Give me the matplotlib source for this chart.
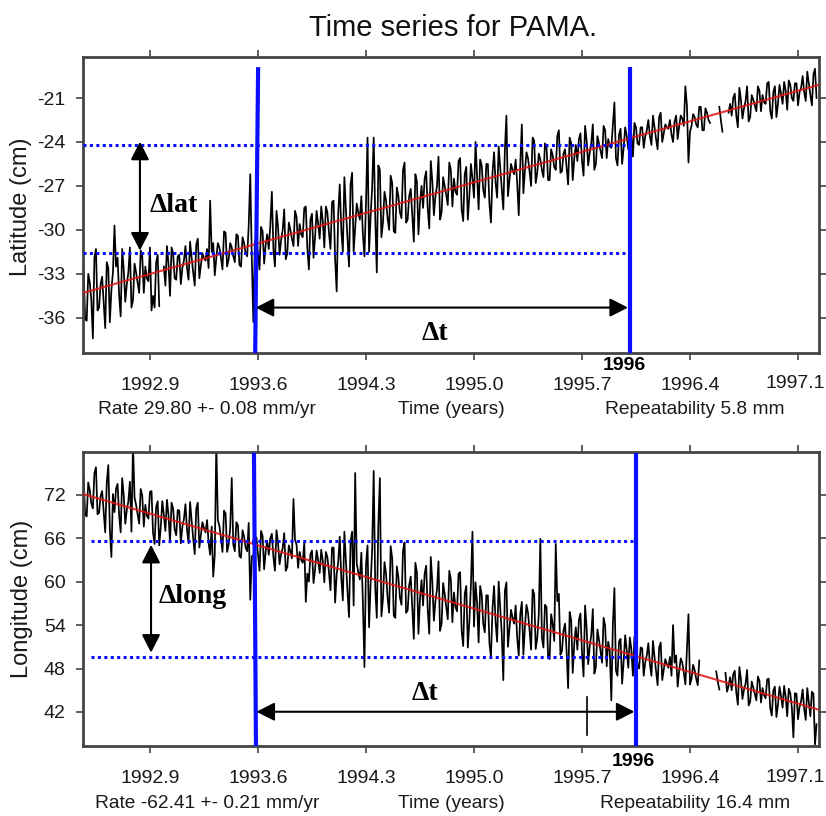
import numpy as np
import matplotlib
matplotlib.use("Agg")
import matplotlib.pyplot as plt

SANS = 'Liberation Sans'
SERIF = 'Liberation Serif'

# ---------------- data ----------------
nan = np.nan
start_year = 1992.47          # first epoch
step_year = 0.02              # spacing of the "a" epochs; "b" epochs lie half a step later

lat_cm_a = [
    -32.7, -36.2, -33.6, -37.4, -31.3, -35.3, -33.2, -36.7, -32.6, -34.1,
    -29.7, -31.9, -35.9, -32.7, -33.7, -31.2, -34.8, -32.9, -34.3, -31.8,
    -32.5, -33.5, -35.5, -35.3, -31.7, nan, -32.5, -31.1, -34.5, -31.6,
    -33.4, -31.7, -32.6, -31.1, -33.4, -31.9, -33.8, -30.6, -32.4, -31.9,
    -31.3, -28.0, -30.9, -31.9, -31.2, -32.7, -30.2, -32.0, -31.2, -32.2,
    -30.4, -32.5, -30.9, -31.8, -26.2, -36.3, -30.5, -32.7, -30.1, -31.0,
    -31.3, -27.4, -32.5, -29.8, -30.7, -28.6, -31.6, -30.0, -31.1, -29.1,
    -29.6, -30.5, -28.4, -32.7, -28.9, -30.5, -29.6, -28.4, -31.2, -28.8,
    -31.3, -28.0, -34.2, -26.9, -31.5, -28.6, -32.5, -26.1, -29.8, -28.8,
    -27.7, -31.8, -23.7, -29.1, -23.7, -32.9, -25.9, -29.5, -28.0, -30.0,
    -26.8, -30.2, -27.7, -29.2, -25.4, -29.3, -27.2, -30.8, -26.7, -28.2,
    -28.5, -26.0, -29.9, -26.7, -27.7, -25.0, -28.8, -27.0, -28.3, -25.9,
    -26.5, -27.6, -25.1, -29.4, -25.7, -27.7, -26.5, -24.0, -28.6, -25.6,
    -27.8, -25.5, -29.5, -24.7, -27.8, -25.8, -28.6, -22.2, -26.6, -25.9,
    -25.2, -29.0, -22.8, -26.0, -25.1, -27.0, -23.9, -26.1, -25.2, -26.4,
    -24.3, -26.6, -24.9, -25.9, -23.2, -26.0, -24.5, -26.9, -24.1, -25.1,
    -25.3, -23.4, -26.3, -23.9, -24.7, -22.8, -25.5, -24.1, -25.1, -23.2,
    -23.8, -24.4, -21.3, -25.6, -23.1, -24.4, -23.6, -22.7, -25.0, -23.0,
    -24.2, -23.0, -23.6, -22.5, -24.2, -23.0, -24.5, -22.0, -23.4, -23.0,
    -22.5, -24.0, -22.2, -22.9, -22.4, -20.2, -25.4, -22.9, -22.3, -23.0,
    -21.6, -23.2, -22.0, -22.7, nan, nan, -21.6, -23.3, nan, -22.0,
    -22.2, -20.7, -23.0, -21.1, -21.7, -20.2, -22.3, -21.1, -21.9, -20.5,
    -20.8, -21.4, -19.9, -22.4, -20.2, -21.4, -20.7, -19.9, -21.8, -20.1,
    -21.2, -20.0, -20.6, -19.5, -21.2, -20.0, -21.5, -19.0,
]
lat_cm_b = [
    -36.1, -33.0, -34.8, -31.9, -35.5, -33.7, -34.9, -32.2, -36.3, -32.9,
    -32.5, -34.4, -31.3, -34.9, -32.9, -35.3, -32.3, -33.6, -31.4, -34.3,
    -33.3, -31.2, -34.5, -32.2, -35.2, nan, -33.8, -32.3, -31.2, -33.3,
    -31.8, -33.7, -32.1, -32.6, -30.8, -32.9, -31.0, -33.3, -31.6, -32.1,
    -32.6, -31.5, -33.1, -30.9, -31.9, -30.1, -32.5, -30.9, -31.8, -30.3,
    -32.4, -30.5, -31.6, -29.7, -31.9, -30.8, -31.6, -29.8, -32.3, -30.3,
    -29.7, -31.3, -28.7, -31.7, -30.0, -32.0, -29.5, -30.6, -28.7, -31.1,
    -30.3, -28.5, -31.3, -29.3, -31.9, -28.7, -30.6, -29.4, -28.4, -30.2,
    -28.1, -32.0, -28.9, -30.0, -26.4, -30.6, -26.9, -31.5, -28.2, -29.3,
    -30.3, -28.2, -31.5, -27.1, -29.1, -25.6, -30.5, -27.4, -29.2, -26.3,
    -30.1, -27.1, -28.8, -25.9, -29.5, -27.7, -29.0, -26.2, -30.3, -27.0,
    -26.5, -28.5, -25.3, -29.0, -27.0, -29.3, -26.4, -27.6, -25.4, -28.4,
    -27.4, -25.3, -28.6, -26.2, -29.3, -25.5, -27.8, -26.3, -25.2, -27.3,
    -25.5, -28.2, -26.1, -26.8, -24.3, -27.2, -24.6, -27.7, -25.5, -26.2,
    -26.8, -25.5, -27.5, -24.7, -26.0, -23.7, -26.8, -24.8, -25.9, -24.1,
    -26.6, -24.5, -25.7, -23.6, -26.1, -24.8, -25.7, -23.7, -26.6, -24.2,
    -23.8, -25.3, -22.9, -25.6, -24.1, -25.9, -23.6, -24.6, -22.9, -25.1,
    -24.3, -22.9, -25.1, -23.5, -25.5, -23.0, -24.5, -23.5, -22.7, -24.1,
    -23.0, -24.4, -23.2, -23.6, -22.2, -23.8, -22.3, -24.0, -22.8, -23.1,
    -23.5, -22.6, -23.8, -22.2, -22.9, -21.5, -23.3, -22.1, -22.8, -21.6,
    -23.2, -21.7, -22.5, nan, nan, nan, -22.5, nan, nan, -21.4,
    -21.0, -22.2, -20.3, -22.4, -21.2, -22.6, -20.8, -21.5, -20.2, -21.9,
    -21.3, -20.0, -21.9, -20.6, -22.3, -20.1, -21.4, -20.5, -19.8, -21.0,
    -20.0, -21.5, -20.3, -20.6, -19.2, -20.8, -19.4, -21.0,
]

long_cm_a = [
    74.5, 69.0, 72.6, 70.1, 75.8, 69.5, 72.5, 66.8, 76.1, 63.4,
    69.6, 73.5, 66.8, 71.9, 69.9, 73.8, 79.0, 70.6, 68.0, 71.9,
    70.6, 68.7, 72.5, 65.2, 71.1, 67.6, 69.2, 71.3, 65.4, 70.1,
    66.4, 69.8, 67.6, 70.7, 65.3, 68.4, 63.8, 70.9, 66.4, 67.4,
    68.5, 63.7, 60.7, 79.0, 67.7, 64.1, 69.4, 65.1, 74.3, 64.2,
    67.8, 63.3, 66.2, 64.2, 57.5, 63.6, 66.1, 61.5, 66.3, 64.2,
    63.7, 66.6, 61.5, 65.3, 63.8, 66.7, 62.0, 64.2, 71.4, 65.1,
    64.1, 62.6, 57.2, 60.0, 64.3, 61.7, 62.9, 64.4, 59.9, 63.4,
    58.8, 64.7, 61.0, 66.2, 57.4, 62.7, 55.1, 66.9, 75.0, 61.3,
    64.0, 48.2, 65.0, 59.7, 75.3, 55.0, 74.3, 57.6, 61.1, 55.7,
    63.2, 55.0, 60.6, 56.8, 65.4, 56.0, 60.7, 52.1, 61.3, 57.6,
    56.7, 62.2, 52.8, 59.9, 57.3, 62.8, 54.2, 58.3, 54.8, 60.3,
    58.5, 55.9, 61.3, 51.1, 59.4, 54.5, 66.9, 59.9, 51.6, 58.2,
    53.0, 58.1, 49.6, 59.4, 51.7, 56.3, 46.4, 59.9, 53.6, 55.0,
    56.7, 49.8, 57.2, 53.7, 55.7, 50.6, 58.3, 52.2, 65.9, 50.9,
    56.5, 49.3, 54.2, 65.2, 58.3, 50.4, 54.2, 45.3, 54.7, 51.5,
    50.6, 55.6, 46.9, 53.6, 51.1, 56.2, 48.2, 52.0, 48.8, 53.9,
    51.7, 43.6, 59.1, 47.0, 52.1, 49.0, 50.5, 52.3, 47.0, 51.2,
    48.0, 50.8, 48.9, 51.5, 47.0, 49.6, 45.7, 51.6, 47.9, 48.6,
    49.6, 54.0, 49.8, 47.7, 48.8, 45.8, 55.5, 46.6, 47.8, 45.7,
    nan, nan, nan, nan, nan, 47.6, 45.1, nan, 47.4, 45.6,
    45.0, 47.7, 43.0, 46.5, 45.1, 47.8, 43.4, 45.4, 43.6, 46.3,
    45.3, 43.9, 46.6, 41.5, 45.5, 43.0, 44.2, 45.6, 41.4, 44.6,
    38.5, 44.5, 42.7, 45.1, 40.9, 43.3, 44.8, 37.5,
]
long_cm_b = [
    69.2, 73.7, 70.8, 75.0, 69.3, 71.8, 69.7, 73.7, 67.2, 72.1,
    72.8, 69.2, 74.3, 68.0, 71.1, 66.9, 71.6, 69.3, 72.8, 67.6,
    69.1, 72.4, 66.7, 70.3, 65.0, 71.1, 67.0, 69.2, 70.9, 67.2,
    69.9, 65.3, 68.6, 67.2, 71.0, 66.0, 70.1, 64.7, 68.2, 66.8,
    65.4, 67.6, 63.7, 68.5, 66.0, 69.8, 64.1, 67.4, 65.1, 68.2,
    63.5, 67.1, 64.7, 68.1, 63.5, 65.5, 63.8, 67.0, 61.7, 65.6,
    66.0, 63.4, 67.1, 62.4, 64.6, 61.5, 65.0, 63.2, 65.8, 61.9,
    63.0, 65.4, 61.1, 63.8, 59.8, 64.3, 61.2, 62.9, 64.1, 61.3,
    64.7, 57.1, 62.7, 60.5, 66.9, 58.7, 65.5, 56.7, 62.5, 60.3,
    57.2, 62.3, 53.7, 64.4, 59.1, 67.8, 55.2, 62.7, 57.8, 64.9,
    55.3, 62.1, 57.8, 64.3, 55.7, 59.5, 56.4, 62.6, 52.8, 60.2,
    61.1, 56.2, 63.4, 54.6, 58.9, 53.2, 59.8, 56.6, 61.5, 54.4,
    56.5, 61.1, 53.2, 58.3, 50.9, 59.5, 53.8, 57.0, 59.4, 54.2,
    58.1, 51.5, 56.3, 54.4, 60.0, 52.8, 58.7, 51.0, 56.1, 54.2,
    52.2, 55.5, 49.9, 56.8, 53.3, 58.9, 50.7, 55.5, 52.3, 56.8,
    49.7, 55.5, 51.8, 57.3, 49.9, 53.2, 50.5, 55.8, 47.4, 53.7,
    54.7, 50.1, 56.7, 48.6, 52.6, 47.3, 53.4, 50.4, 55.0, 48.3,
    50.4, 54.0, 47.7, 51.7, 45.9, 52.6, 48.1, 50.6, 52.4, 48.4,
    50.9, 47.0, 49.8, 48.6, 51.8, 47.6, 50.9, 46.4, 49.3, 48.1,
    47.0, 48.8, 45.5, 49.4, 47.4, 50.5, 45.8, 48.5, 46.6, 49.1,
    nan, nan, nan, nan, nan, 46.2, nan, nan, 44.8, 46.8,
    47.2, 44.7, 48.2, 43.8, 45.9, 42.9, 46.2, 44.5, 46.9, 43.3,
    44.3, 46.5, 42.5, 45.0, 41.3, 45.5, 42.6, 44.1, 45.2, 42.6,
    44.6, 41.0, 43.5, 42.4, 45.3, 41.4, 44.5, 40.3,
]

# fitted trend lines (end points)
fit_years = [1992.466, 1997.236]
lat_fit = [-34.3, -20.1]
long_fit = [72.1, 42.3]

xtick_years = [1992.9, 1993.6, 1994.3, 1995.0, 1995.7, 1996.4, 1997.1]
xtick_labels = ['1992.9', '1993.6', '1994.3', '1995.0', '1995.7', '1996.4', '1997.1']
lat_ticks = [-36, -33, -30, -27, -24, -21]
long_ticks = [42, 48, 54, 60, 66, 72]

lat_rate_text = 'Rate 29.80 +- 0.08 mm/yr'
lat_rep_text = 'Repeatability 5.8 mm'
long_rate_text = 'Rate -62.41 +- 0.21 mm/yr'
long_rep_text = 'Repeatability 16.4 mm'

# annotation marks
lat_levels = [-24.2, -31.55]          # dotted levels, top panel
long_levels = [65.6, 49.55]           # dotted levels, bottom panel


def merged(series_a, series_b):
    """Put the a-epochs and the half-step b-epochs into one time-ordered series."""
    n = len(series_a)
    ta = start_year + step_year * np.arange(n)
    t = np.empty(2 * n)
    v = np.empty(2 * n)
    t[0::2] = ta
    t[1::2] = ta + step_year / 2
    v[0::2] = series_a
    v[1::2] = series_b
    return t, v


# ---------------- figure ----------------
W, H = 826, 816
plt.rcParams['font.family'] = [SANS, 'DejaVu Sans']
fig = plt.figure(figsize=(W / 100, H / 100), dpi=100)

ax1 = fig.add_axes([83 / W, 1 - 353 / H, 736 / W, 296 / H])
ax2 = fig.add_axes([83 / W, 1 - 746 / H, 736 / W, 294 / H])

FRAME = '#444444'
BLUE = '#0a10ff'
TXT = '#1a1a1a'
TICK_FS = 14

for ax, yt, ypix in ((ax1, lat_ticks, 383), (ax2, long_ticks, 777)):
    ax.set_xlim(1992.466, 1997.236)
    ax.set_xticks(xtick_years)
    # last label is drawn separately, nudged inward so it stays inside the figure
    ax.set_xticklabels(xtick_labels[:-1] + [''])
    ax.set_yticks(yt)
    ax.set_yticklabels([str(v) for v in yt])
    ax.tick_params(direction='out', length=5, width=1.2, color=FRAME,
                   top=True, right=True, labelsize=TICK_FS, labelcolor=TXT)
    ax.tick_params(axis='x', pad=12.0)
    ax.tick_params(axis='y', pad=7.5)
    for s in ax.spines.values():
        s.set_color(FRAME)
        s.set_linewidth(2.0)
    fig.text(795 / W, 1 - ypix / H, xtick_labels[-1], size=TICK_FS, color=TXT,
             ha='center', va='center')

ax1.set_ylim(-38.4, -18.2)
ax2.set_ylim(37.3, 77.9)

# data
t_lat, v_lat = merged(lat_cm_a, lat_cm_b)
t_long, v_long = merged(long_cm_a, long_cm_b)
ax1.plot(t_lat, v_lat, color='black', lw=1.25, zorder=2)
ax2.plot(t_long, v_long, color='black', lw=1.25, zorder=2)
ax1.plot(fit_years, lat_fit, color='#e01515', lw=1.5, alpha=0.85, zorder=3)
ax2.plot(fit_years, long_fit, color='#e01515', lw=1.5, alpha=0.85, zorder=3)

# dotted levels
dot = dict(color=BLUE, lw=2.2, linestyle=(0, (1, 1.1)), dash_capstyle='butt', zorder=4)
for lv in lat_levels:
    ax1.plot([1992.466, 1995.998], [lv, lv], **dot)
for lv in long_levels:
    ax2.plot([1992.52, 1996.03], [lv, lv], **dot)

# blue vertical markers
ax1.plot([1993.601, 1993.582], [-18.89, -38.4], color=BLUE, lw=3, zorder=5, solid_capstyle='butt')
ax1.plot([1996.011, 1996.011], [-18.89, -38.4], color=BLUE, lw=3, zorder=5, solid_capstyle='butt')
ax2.plot([1993.574, 1993.587], [77.8, 37.3], color=BLUE, lw=3, zorder=5, solid_capstyle='butt')
ax2.plot([1996.05, 1996.05], [77.8, 37.3], color=BLUE, lw=3, zorder=5, solid_capstyle='butt')

# arrows
ap = dict(arrowstyle='<|-|>,head_length=0.55,head_width=0.28', mutation_scale=20,
          lw=1.5, color='black', shrinkA=0, shrinkB=0)
ax1.annotate('', xy=(1992.835, -23.98), xytext=(1992.835, -31.41), arrowprops=ap, zorder=6)
ax1.annotate('', xy=(1993.585, -35.3), xytext=(1995.998, -35.3), arrowprops=ap, zorder=6)
ax2.annotate('', xy=(1992.907, 65.08), xytext=(1992.907, 50.19), arrowprops=ap, zorder=6)
ax2.annotate('', xy=(1993.59, 42.03), xytext=(1996.04, 42.03), arrowprops=ap, zorder=6)
ax2.plot([1995.734, 1995.734], [44.06, 38.8], color='black', lw=1.2, zorder=6)

bold_serif = dict(family=[SERIF, 'DejaVu Serif'], weight='bold', size=20, color='black')
ax1.text(1992.90, -28.36, '\u0394lat', ha='left', va='center', **bold_serif, zorder=7)
ax1.text(1994.747, -37.1, '\u0394t', ha='center', va='center', **bold_serif, zorder=7)
ax2.text(1992.958, 57.9, '\u0394long', ha='left', va='center', **bold_serif, zorder=7)
ax2.text(1994.682, 44.6, '\u0394t', ha='center', va='center', **bold_serif, zorder=7)

fig.text(624 / W, 1 - 366 / H, '1996', ha='center', va='center', size=14,
         weight='bold', family=[SANS, 'DejaVu Sans'])
fig.text(633 / W, 1 - 762 / H, '1996', ha='center', va='center', size=14,
         weight='bold', family=[SANS, 'DejaVu Sans'])

# titles and labels
BOT_FS = 13.8
txt = dict(size=BOT_FS, color=TXT, va='center', ha='center')
fig.text(453 / W, 1 - 28 / H, 'Time series for PAMA.', size=21, ha='center', va='center', color='#111111')
fig.text(207 / W, 1 - 410 / H, lat_rate_text, **txt)
fig.text(451 / W, 1 - 410 / H, 'Time (years)', **txt)
fig.text(695 / W, 1 - 410 / H, lat_rep_text, **txt)
fig.text(207 / W, 1 - 803 / H, long_rate_text, **txt)
fig.text(451 / W, 1 - 803 / H, 'Time (years)', **txt)
fig.text(695 / W, 1 - 803 / H, long_rep_text, **txt)

fig.text(21 / W, 1 - 207 / H, 'Latitude (cm)', rotation=90, size=17, color=TXT,
         ha='center', va='center')
fig.text(22 / W, 1 - 599 / H, 'Longitude (cm)', rotation=90, size=17, color=TXT,
         ha='center', va='center')

fig.savefig('out.png', dpi=100, facecolor='white')
